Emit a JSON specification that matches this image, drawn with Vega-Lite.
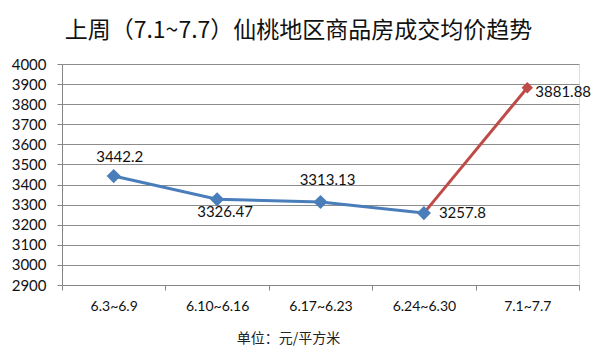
{
  "$schema": "https://vega.github.io/schema/vega-lite/v6.json",
  "autosize": "none",
  "width": 517,
  "height": 221,
  "padding": {"left": 62, "top": 64, "right": 21, "bottom": 76},
  "background": "white",
  "title": {
    "text": "上周（7.1~7.7）仙桃地区商品房成交均价趋势",
    "font": "Noto Sans CJK SC",
    "fontSize": 23,
    "fontWeight": "normal",
    "color": "#111",
    "anchor": "middle",
    "frame": "group",
    "dx": -22,
    "offset": 14
  },
  "data": {
    "values": [
      {"period": "6.3~6.9", "price": 3442.2, "series": "前四周"},
      {"period": "6.10~6.16", "price": 3326.47, "series": "前四周"},
      {"period": "6.17~6.23", "price": 3313.13, "series": "前四周"},
      {"period": "6.24~6.30", "price": 3257.8, "series": "前四周"},
      {"period": "6.24~6.30", "price": 3257.8, "series": "本周"},
      {"period": "7.1~7.7", "price": 3881.88, "series": "本周"}
    ]
  },
  "encoding": {
    "x": {
      "field": "period",
      "type": "nominal",
      "sort": null,
      "scale": {"type": "band", "paddingInner": 0, "paddingOuter": 0},
      "axis": {
        "title": "单位：元/平方米",
        "titleFont": "Noto Sans CJK SC",
        "titleFontSize": 14,
        "titleFontWeight": "normal",
        "titleColor": "#222",
        "titleX": 226,
        "titleY": 53,
        "titleBaseline": "middle",
        "labelFont": "Lato",
        "labelFontSize": 14,
        "labelColor": "#111",
        "labelAngle": 0,
        "labelPadding": 9,
        "tickBand": "extent",
        "tickSize": 5,
        "tickColor": "#868686",
        "domainColor": "#868686",
        "grid": false
      }
    },
    "y": {
      "field": "price",
      "type": "quantitative",
      "scale": {"domain": [2900, 4000], "nice": false, "zero": false},
      "axis": {
        "title": null,
        "format": "d",
        "values": [2900, 3000, 3100, 3200, 3300, 3400, 3500, 3600, 3700, 3800, 3900, 4000],
        "labelFont": "Lato",
        "labelFontSize": 15,
        "labelColor": "#111",
        "labelPadding": 11,
        "tickSize": 5,
        "tickColor": "#868686",
        "domainColor": "#868686",
        "grid": true,
        "gridColor": "#8c8c8c",
        "gridWidth": 1
      }
    }
  },
  "layer": [
    {
      "transform": [{"filter": "datum.series == '前四周'"}],
      "mark": {"type": "line", "color": "#4A7EBB", "strokeWidth": 3}
    },
    {
      "transform": [{"filter": "datum.series == '本周'"}],
      "mark": {"type": "line", "color": "#BE4B48", "strokeWidth": 3}
    },
    {
      "transform": [{"filter": "datum.series == '本周' && datum.period == '7.1~7.7'"}],
      "mark": {"type": "point", "shape": "diamond", "filled": true, "color": "#BE4B48", "size": 130, "opacity": 1}
    },
    {
      "transform": [{"filter": "datum.series == '前四周'"}],
      "mark": {"type": "point", "shape": "diamond", "filled": true, "color": "#4A7EBB", "size": 200, "opacity": 1}
    },
    {
      "transform": [{"filter": "datum.series == '前四周' && (datum.period == '6.3~6.9')"}],
      "mark": {"type": "text", "font": "Lato", "fontSize": 15, "color": "#111", "dx": 6, "dy": -19},
      "encoding": {"text": {"field": "price", "type": "quantitative"}}
    },
    {
      "transform": [{"filter": "datum.series == '前四周' && (datum.period == '6.17~6.23')"}],
      "mark": {"type": "text", "font": "Lato", "fontSize": 15, "color": "#111", "dx": 7, "dy": -22},
      "encoding": {"text": {"field": "price", "type": "quantitative"}}
    },
    {
      "transform": [{"filter": "datum.series == '前四周' && (datum.period == '6.10~6.16')"}],
      "mark": {"type": "text", "font": "Lato", "fontSize": 15, "color": "#111", "dx": 8, "dy": 13},
      "encoding": {"text": {"field": "price", "type": "quantitative"}}
    },
    {
      "transform": [{"filter": "datum.series == '前四周' && (datum.period == '6.24~6.30')"}],
      "mark": {"type": "text", "font": "Lato", "fontSize": 15, "color": "#111", "align": "left", "dx": 15, "dy": 0},
      "encoding": {"text": {"field": "price", "type": "quantitative"}}
    },
    {
      "transform": [{"filter": "datum.series == '本周' && (datum.period == '7.1~7.7')"}],
      "mark": {"type": "text", "font": "Lato", "fontSize": 15, "color": "#111", "align": "left", "dx": 8, "dy": 4},
      "encoding": {"text": {"field": "price", "type": "quantitative"}}
    }
  ]
}
